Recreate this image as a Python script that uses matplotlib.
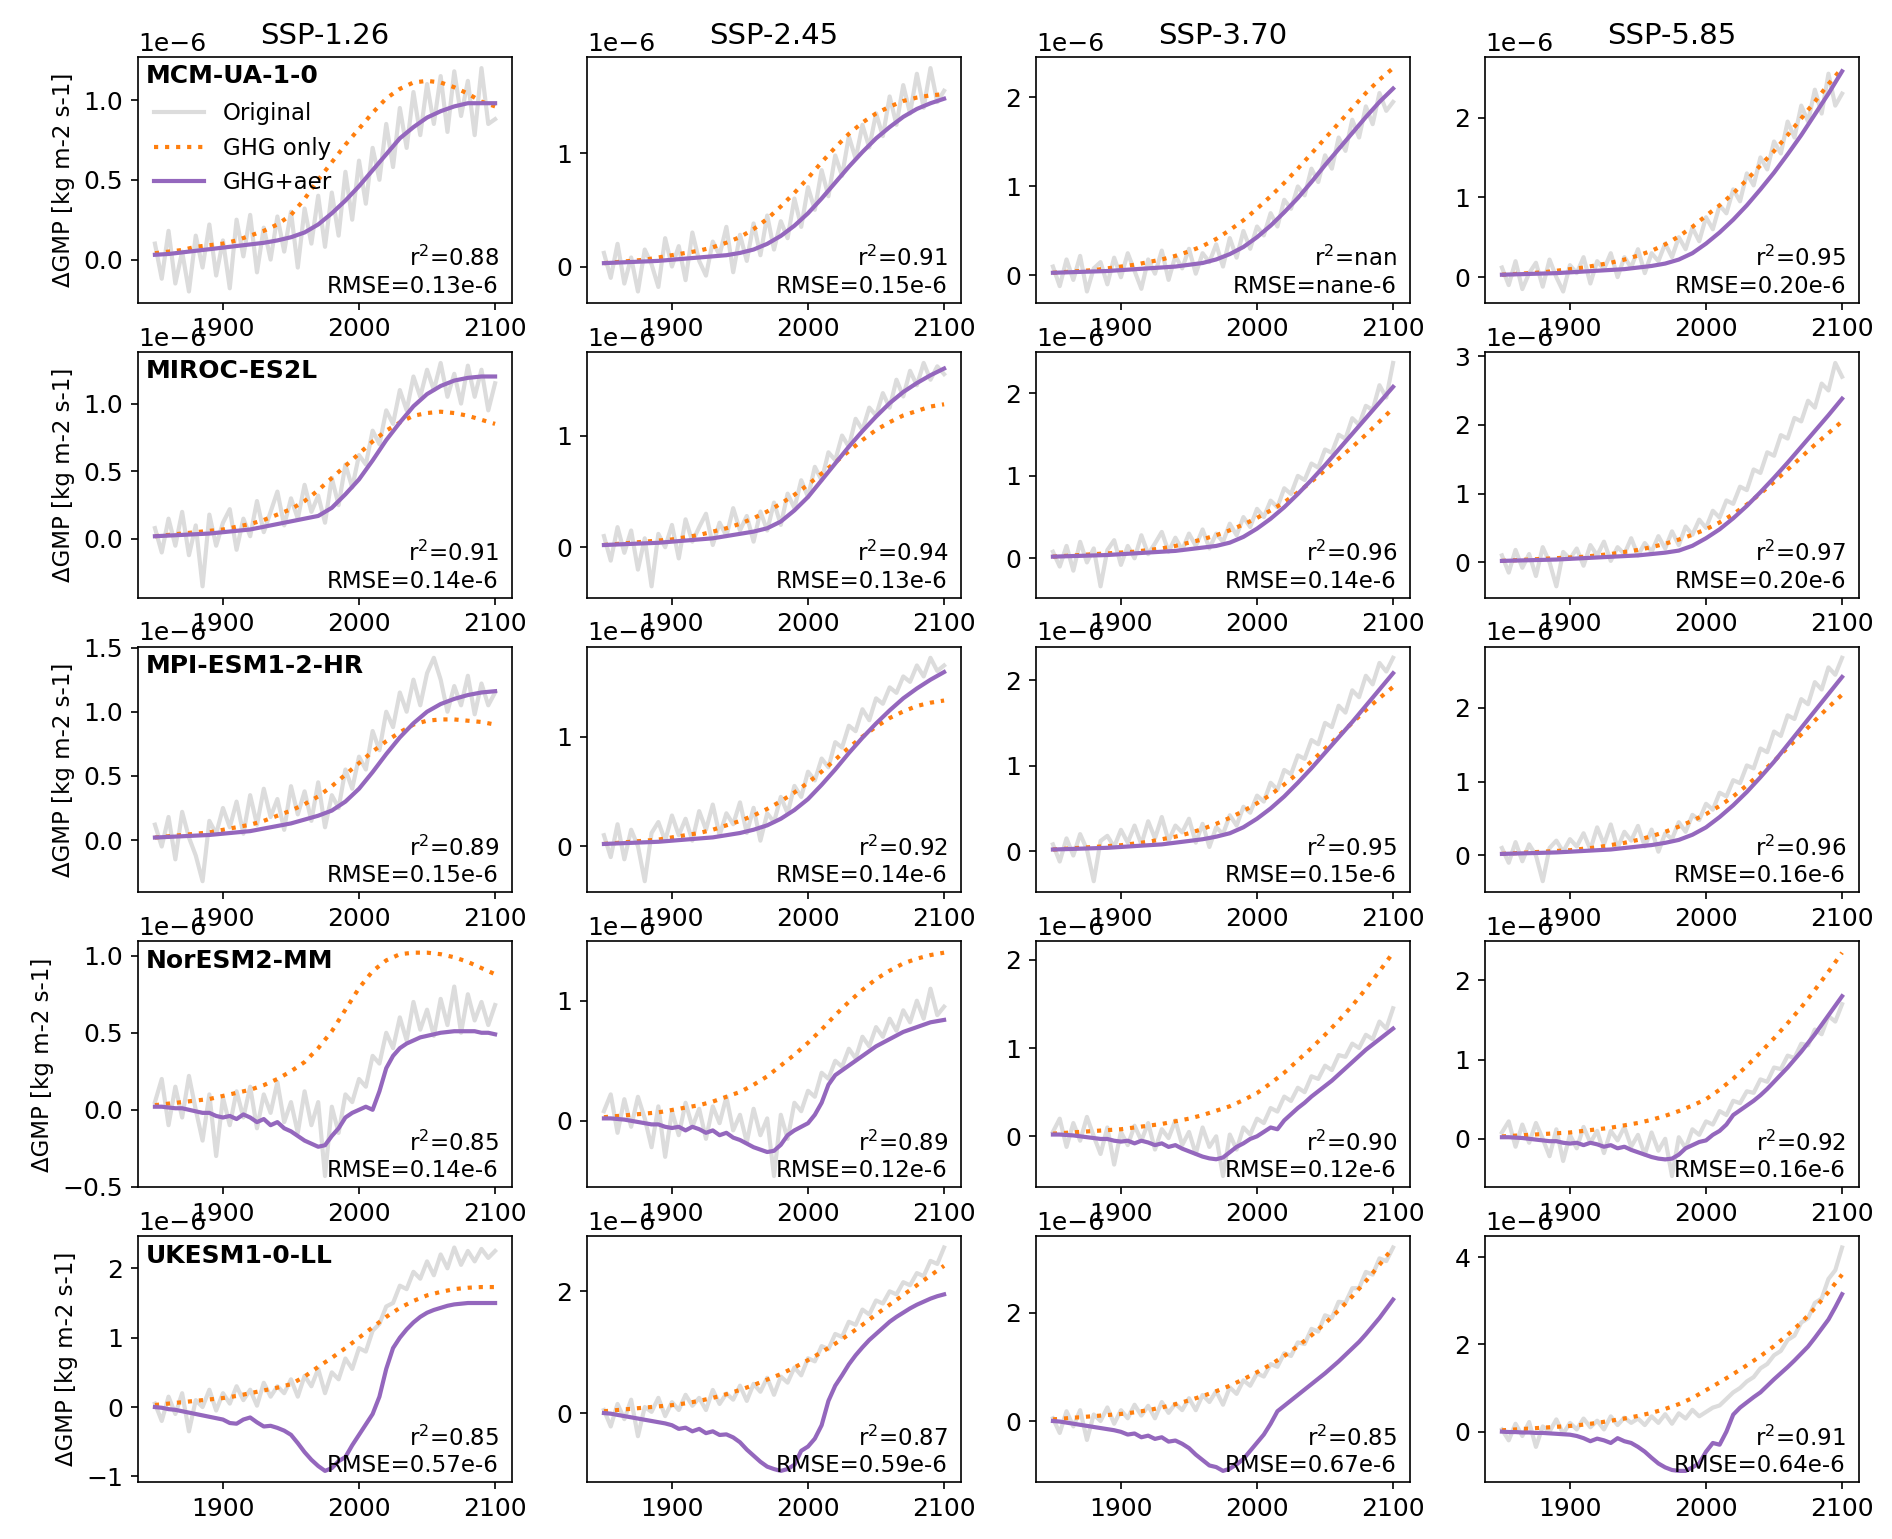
import numpy as np
import matplotlib
matplotlib.use("Agg")
import matplotlib.pyplot as plt
from matplotlib.ticker import MaxNLocator

SCENARIOS = ["SSP-1.26", "SSP-2.45", "SSP-3.70", "SSP-5.85"]
MODELS = ["MCM-UA-1-0", "MIROC-ES2L", "MPI-ESM1-2-HR", "NorESM2-MM", "UKESM1-0-LL"]
YEAR_START, YEAR_END = 1850, 2100

# ---------------- values in units of 1e-6 kg m-2 s-1 ----------------
# Original (5-yearly samples 1850..2100)
ORIG_MCM = [
    [0.10,-0.12,0.18,-0.15,0.05,-0.20,0.15,-0.05,0.22,-0.10,
     0.12,-0.18,0.25,0.02,0.28,-0.08,0.20,0.00,0.27,0.05,
     0.30,-0.05,0.32,0.10,0.40,0.08,0.42,0.15,0.55,0.25,
     0.62,0.35,0.70,0.50,0.85,0.58,0.95,0.70,1.05,0.78,
     1.10,0.85,1.15,0.80,1.18,0.90,1.12,0.78,1.20,0.85,0.88],
    [0.12,-0.10,0.20,-0.15,0.08,-0.22,0.15,0.02,-0.18,0.25,
     0.00,0.18,-0.12,0.30,0.05,-0.08,0.22,0.10,0.35,-0.05,
     0.28,0.05,0.38,0.10,0.45,0.15,0.40,0.25,0.60,0.35,
     0.70,0.50,0.85,0.62,0.98,0.80,1.15,0.95,1.25,1.05,
     1.35,1.15,1.50,1.25,1.60,1.35,1.70,1.40,1.75,1.45,1.55],
    [0.10,-0.12,0.18,-0.05,0.22,-0.18,0.08,0.15,-0.10,0.20,
     -0.02,0.25,0.05,-0.15,0.18,0.02,0.28,-0.05,0.22,0.08,
     0.30,0.02,0.25,0.15,0.35,0.10,0.42,0.20,0.50,0.30,
     0.55,0.45,0.70,0.55,0.85,0.75,1.00,0.90,1.20,1.05,
     1.35,1.20,1.55,1.40,1.75,1.55,1.90,1.70,2.05,1.85,1.95],
    [0.12,-0.10,0.20,-0.15,0.05,0.18,-0.12,0.22,0.00,-0.18,
     0.15,0.05,0.25,-0.08,0.20,0.10,0.30,0.00,0.25,0.12,
     0.35,0.05,0.30,0.20,0.42,0.25,0.50,0.35,0.62,0.45,
     0.75,0.60,0.90,0.80,1.10,0.95,1.30,1.15,1.50,1.35,
     1.70,1.55,1.95,1.75,2.15,1.95,2.35,2.05,2.55,2.15,2.30],
]
ORIG_MIROC = [
    [0.08,-0.10,0.15,-0.05,0.20,-0.12,0.10,-0.35,0.18,-0.05,
     0.12,0.22,-0.08,0.15,0.02,0.28,0.05,0.20,0.35,0.10,
     0.30,0.15,0.40,0.20,0.32,0.12,0.45,0.25,0.55,0.38,
     0.62,0.55,0.80,0.70,0.95,0.85,1.10,0.95,1.20,1.05,
     1.25,1.10,1.30,1.05,1.22,1.00,1.28,1.05,1.25,0.95,1.15],
    [0.10,-0.12,0.18,-0.05,0.15,-0.20,0.08,-0.35,0.12,0.00,
     0.20,-0.10,0.25,0.05,0.18,0.30,0.02,0.22,0.10,0.35,
     0.15,0.28,0.05,0.32,0.15,0.40,0.20,0.48,0.35,0.60,
     0.45,0.72,0.60,0.85,0.78,1.00,0.90,1.15,1.05,1.25,
     1.18,1.38,1.25,1.50,1.35,1.58,1.45,1.65,1.50,1.62,1.55],
    [0.08,-0.10,0.15,-0.15,0.20,-0.05,0.12,-0.34,0.10,0.22,
     -0.08,0.15,0.00,0.28,0.05,0.18,0.32,0.08,0.25,0.10,
     0.30,0.15,0.35,0.12,0.30,0.20,0.42,0.28,0.50,0.38,
     0.60,0.50,0.70,0.62,0.85,0.78,1.00,0.95,1.15,1.10,
     1.32,1.28,1.50,1.45,1.70,1.62,1.85,1.80,2.10,1.95,2.37],
    [0.10,-0.15,0.18,-0.08,0.12,-0.20,0.22,0.00,-0.35,0.15,
     0.05,0.20,-0.05,0.25,0.10,0.30,0.02,0.22,0.12,0.35,
     0.10,0.28,0.15,0.38,0.20,0.45,0.25,0.52,0.40,0.62,
     0.50,0.75,0.65,0.90,0.85,1.10,1.05,1.35,1.30,1.60,
     1.55,1.85,1.80,2.10,2.05,2.35,2.25,2.60,2.50,2.90,2.70],
]
ORIG_MPI = [
    [0.12,-0.05,0.18,-0.15,0.22,0.02,-0.12,-0.32,0.15,0.05,
     0.25,0.10,0.30,0.05,0.35,0.12,0.40,0.18,0.32,0.08,
     0.42,0.20,0.38,0.15,0.45,0.10,0.35,0.25,0.55,0.40,
     0.65,0.55,0.85,0.70,1.00,0.88,1.15,1.00,1.25,1.05,
     1.30,1.42,1.25,1.00,1.20,1.05,1.28,0.98,1.22,1.05,1.15],
    [0.10,-0.10,0.20,-0.12,0.15,0.00,-0.32,0.12,0.22,0.05,
     0.28,0.10,0.25,0.05,0.32,0.15,0.38,0.10,0.30,0.20,
     0.40,0.12,0.35,0.05,0.30,0.22,0.45,0.30,0.55,0.45,
     0.68,0.60,0.80,0.72,0.95,0.90,1.10,1.05,1.25,1.15,
     1.35,1.30,1.45,1.40,1.55,1.50,1.65,1.55,1.72,1.60,1.65],
    [0.08,-0.12,0.15,-0.05,0.20,0.02,-0.35,0.12,0.18,0.05,
     0.25,0.10,0.30,0.08,0.35,0.15,0.40,0.12,0.30,0.22,
     0.38,0.10,0.32,0.05,0.28,0.20,0.42,0.30,0.52,0.45,
     0.65,0.58,0.80,0.72,0.95,0.90,1.12,1.08,1.30,1.25,
     1.50,1.45,1.70,1.62,1.88,1.80,2.05,1.95,2.20,2.10,2.26],
    [0.10,-0.10,0.18,-0.08,0.15,0.00,-0.35,0.10,0.20,0.05,
     0.22,0.12,0.30,0.08,0.38,0.15,0.42,0.10,0.32,0.20,
     0.40,0.12,0.35,0.05,0.30,0.22,0.45,0.32,0.55,0.48,
     0.70,0.62,0.85,0.80,1.02,0.98,1.22,1.18,1.45,1.40,
     1.68,1.62,1.90,1.85,2.12,2.05,2.35,2.25,2.55,2.45,2.68],
]
ORIG_NORESM = [
    [0.05,0.20,-0.10,0.15,-0.05,0.22,0.00,-0.20,0.10,-0.30,
     0.08,-0.10,0.12,-0.05,0.15,-0.12,0.10,-0.02,0.18,-0.08,
     0.05,-0.15,0.12,-0.10,0.05,-0.43,0.02,-0.15,0.10,0.05,
     0.20,0.15,0.35,0.30,0.50,0.40,0.60,0.45,0.70,0.52,
     0.65,0.48,0.72,0.55,0.80,0.50,0.75,0.58,0.70,0.55,0.68],
    [0.08,0.22,-0.10,0.18,-0.05,0.20,0.02,-0.22,0.12,-0.30,
     0.08,-0.12,0.15,-0.05,0.10,-0.15,0.12,-0.02,0.20,-0.08,
     0.05,-0.18,0.10,-0.12,0.02,-0.46,0.05,-0.15,0.15,0.08,
     0.25,0.20,0.40,0.35,0.50,0.45,0.60,0.52,0.70,0.62,
     0.78,0.70,0.85,0.75,0.92,0.82,1.00,0.85,1.10,0.88,0.95],
    [0.05,0.20,-0.12,0.15,-0.05,0.22,0.00,-0.20,0.10,-0.32,
     0.05,-0.10,0.12,-0.05,0.15,-0.15,0.08,-0.02,0.18,-0.10,
     0.05,-0.20,0.10,-0.12,0.00,-0.45,0.02,-0.15,0.10,0.02,
     0.20,0.15,0.32,0.28,0.45,0.40,0.55,0.50,0.68,0.65,
     0.80,0.75,0.92,0.90,1.05,1.00,1.15,1.10,1.30,1.22,1.45],
    [0.08,0.22,-0.10,0.18,-0.05,0.20,0.00,-0.22,0.12,-0.28,
     0.05,-0.12,0.15,-0.05,0.10,-0.18,0.10,-0.02,0.15,-0.10,
     0.05,-0.20,0.08,-0.15,0.00,-0.47,0.02,-0.12,0.12,0.05,
     0.22,0.18,0.35,0.30,0.48,0.45,0.60,0.58,0.75,0.72,
     0.90,0.88,1.05,1.02,1.20,1.18,1.38,1.32,1.55,1.48,1.70],
]
ORIG_UKESM = [
    [0.05,-0.20,0.15,-0.10,0.20,-0.35,0.10,0.00,0.25,-0.05,
     0.20,0.05,0.30,0.10,0.25,0.02,0.35,0.15,0.30,0.20,
     0.40,0.15,0.45,0.30,0.55,0.20,0.50,0.40,0.70,0.55,
     0.85,0.80,1.10,1.20,1.45,1.50,1.75,1.70,1.95,1.85,
     2.10,1.90,2.20,2.00,2.30,2.05,2.25,2.10,2.28,2.15,2.25],
    [0.05,-0.22,0.15,-0.10,0.22,-0.38,0.10,0.02,0.25,-0.05,
     0.18,0.05,0.30,0.12,0.25,0.05,0.38,0.15,0.32,0.22,
     0.45,0.20,0.48,0.35,0.58,0.30,0.60,0.50,0.75,0.62,
     0.90,0.85,1.10,1.05,1.30,1.25,1.50,1.45,1.70,1.62,
     1.85,1.80,2.00,1.95,2.15,2.10,2.30,2.25,2.50,2.45,2.72],
    [0.05,-0.22,0.18,-0.10,0.20,-0.35,0.12,0.00,0.25,-0.05,
     0.20,0.05,0.30,0.10,0.28,0.05,0.35,0.15,0.32,0.20,
     0.42,0.20,0.48,0.35,0.55,0.30,0.62,0.50,0.75,0.65,
     0.88,0.82,1.05,1.00,1.25,1.20,1.45,1.42,1.70,1.65,
     1.95,1.90,2.20,2.18,2.45,2.45,2.75,2.70,3.00,2.95,3.20],
    [0.05,-0.20,0.18,-0.10,0.22,-0.35,0.12,0.00,0.28,-0.05,
     0.20,0.05,0.30,0.10,0.25,0.05,0.35,0.15,0.32,0.20,
     0.30,0.15,0.35,0.20,0.40,0.18,0.42,0.30,0.50,0.35,
     0.45,0.55,0.60,0.75,0.90,1.00,1.15,1.25,1.45,1.55,
     1.75,1.85,2.10,2.20,2.50,2.60,2.95,3.05,3.50,3.70,4.22],
]

# GHG only (10-yearly samples 1850..2100)
GHG_MCM = [
    [.04,.05,.06,.08,.09,.10,.12,.15,.18,.22,.28,.38,.50,.61,.72,.82,.92,1.01,1.07,1.11,1.12,1.11,1.08,1.04,.99,.96],
    [.03,.04,.05,.06,.08,.10,.12,.14,.17,.21,.26,.33,.42,.53,.65,.78,.92,1.05,1.17,1.27,1.35,1.41,1.46,1.49,1.51,1.52],
    [.03,.04,.05,.06,.08,.10,.12,.15,.18,.22,.27,.33,.41,.51,.62,.75,.89,1.04,1.20,1.37,1.54,1.71,1.88,2.05,2.20,2.33],
    [.03,.04,.05,.06,.08,.10,.12,.15,.18,.22,.27,.33,.41,.51,.63,.77,.90,1.05,1.22,1.40,1.58,1.78,1.99,2.20,2.42,2.62],
]
GHG_MIROC = [
    [.02,.03,.04,.05,.06,.07,.09,.11,.14,.18,.22,.28,.36,.45,.54,.63,.72,.80,.86,.91,.93,.94,.93,.91,.88,.85],
    [.02,.03,.04,.05,.06,.07,.09,.11,.14,.17,.21,.26,.32,.39,.47,.56,.66,.76,.86,.96,1.05,1.12,1.18,1.22,1.26,1.28],
    [.02,.03,.04,.05,.06,.07,.08,.10,.12,.15,.19,.23,.28,.34,.41,.49,.58,.68,.80,.93,1.07,1.21,1.35,1.50,1.66,1.82],
    [.02,.03,.04,.05,.06,.07,.08,.10,.12,.15,.18,.22,.27,.33,.40,.48,.58,.70,.84,1.00,1.17,1.35,1.53,1.71,1.88,2.05],
]
GHG_MPI = [
    [.02,.03,.04,.05,.06,.08,.10,.12,.15,.19,.23,.28,.34,.42,.51,.60,.69,.77,.84,.90,.93,.94,.94,.93,.92,.90],
    [.02,.03,.04,.05,.06,.08,.10,.12,.15,.19,.23,.28,.34,.41,.49,.58,.68,.79,.90,1.00,1.09,1.17,1.23,1.28,1.31,1.33],
    [.02,.03,.04,.05,.06,.07,.09,.11,.14,.17,.21,.26,.32,.39,.47,.56,.66,.78,.91,1.05,1.20,1.35,1.50,1.65,1.79,1.92],
    [.02,.03,.04,.05,.06,.07,.09,.11,.14,.17,.21,.26,.32,.39,.47,.56,.67,.80,.95,1.11,1.28,1.46,1.64,1.83,2.01,2.18],
]
GHG_NORESM = [
    [.03,.04,.05,.06,.07,.09,.11,.13,.16,.20,.25,.31,.40,.51,.65,.79,.90,.97,1.01,1.02,1.02,1.01,.99,.96,.92,.88],
    [.03,.04,.05,.06,.07,.09,.11,.13,.16,.20,.24,.30,.37,.46,.55,.65,.76,.88,.99,1.09,1.18,1.25,1.31,1.35,1.38,1.40],
    [.03,.04,.05,.06,.07,.08,.10,.12,.14,.17,.20,.24,.29,.34,.41,.49,.60,.72,.86,1.00,1.15,1.31,1.48,1.67,1.87,2.08],
    [.03,.04,.05,.06,.07,.08,.10,.12,.14,.17,.20,.24,.29,.35,.42,.50,.62,.76,.92,1.09,1.27,1.46,1.66,1.88,2.11,2.35],
]
GHG_UKESM = [
    [.03,.05,.07,.09,.11,.13,.16,.20,.24,.28,.33,.44,.58,.71,.85,1.00,1.15,1.30,1.43,1.53,1.61,1.66,1.70,1.72,1.73,1.73],
    [.03,.05,.07,.09,.11,.13,.16,.20,.25,.31,.38,.46,.55,.64,.75,.87,1.00,1.14,1.29,1.45,1.62,1.78,1.94,2.10,2.26,2.42],
    [.03,.05,.07,.09,.11,.13,.16,.20,.25,.31,.38,.46,.55,.65,.77,.90,1.04,1.20,1.38,1.58,1.80,2.04,2.30,2.58,2.88,3.20],
    [.03,.05,.07,.09,.11,.13,.16,.20,.25,.30,.36,.43,.52,.63,.77,.95,1.13,1.32,1.52,1.73,1.96,2.22,2.50,2.83,3.20,3.60],
]

# GHG+aer (10-yearly for smooth fits, 5-yearly where aerosol wiggles show)
AER_MCM = [
    [.03,.035,.045,.055,.065,.075,.085,.095,.105,.12,.14,.17,.22,.29,.37,.46,.56,.66,.76,.83,.89,.93,.96,.98,.98,.98],
    [.03,.035,.04,.045,.05,.06,.07,.08,.09,.10,.12,.15,.20,.27,.36,.47,.60,.74,.88,1.01,1.13,1.23,1.32,1.39,1.44,1.48],
    [.03,.035,.04,.045,.05,.06,.07,.08,.09,.10,.12,.14,.18,.24,.32,.43,.56,.71,.87,1.05,1.24,1.42,1.60,1.78,1.95,2.10],
    [.03,.035,.04,.045,.05,.06,.07,.08,.09,.10,.12,.14,.17,.22,.30,.42,.56,.72,.90,1.10,1.31,1.54,1.78,2.04,2.30,2.58],
]
AER_MIROC = [
    [.02,.025,.03,.035,.04,.05,.06,.07,.09,.11,.13,.15,.17,.23,.33,.44,.58,.73,.86,.98,1.07,1.13,1.17,1.19,1.20,1.20],
    [.02,.025,.03,.035,.04,.05,.06,.07,.08,.10,.12,.14,.17,.23,.33,.45,.60,.75,.90,1.04,1.17,1.29,1.39,1.47,1.54,1.60],
    [.02,.025,.03,.035,.04,.05,.06,.07,.08,.09,.11,.13,.15,.19,.26,.36,.48,.62,.78,.95,1.13,1.32,1.51,1.70,1.89,2.08],
    [.02,.025,.03,.035,.04,.05,.06,.07,.08,.09,.10,.12,.14,.17,.24,.35,.48,.64,.82,1.02,1.23,1.45,1.68,1.91,2.14,2.38],
]
AER_MPI = [
    [.02,.025,.03,.035,.04,.05,.06,.07,.09,.11,.13,.16,.19,.23,.30,.40,.53,.67,.80,.91,1.00,1.06,1.10,1.13,1.15,1.16],
    [.02,.025,.03,.035,.04,.05,.06,.07,.08,.10,.12,.15,.19,.25,.33,.43,.56,.70,.85,.99,1.12,1.24,1.35,1.44,1.52,1.59],
    [.02,.025,.03,.035,.04,.05,.06,.07,.08,.10,.12,.14,.17,.21,.28,.38,.50,.64,.80,.97,1.15,1.33,1.51,1.70,1.89,2.08],
    [.02,.025,.03,.035,.04,.05,.06,.07,.08,.10,.12,.14,.17,.21,.28,.38,.52,.68,.86,1.06,1.27,1.50,1.73,1.96,2.19,2.42],
]
AER_NORESM = [
    [.02,.02,.015,.01,.01,.00,-.01,-.02,-.02,-.04,
     -.05,-.04,-.06,-.03,-.05,-.08,-.06,-.10,-.08,-.12,
     -.14,-.17,-.20,-.22,-.24,-.23,-.17,-.12,-.05,-.02,
     .00,.02,.00,.12,.27,.35,.40,.43,.45,.47,
     .48,.49,.50,.505,.51,.51,.51,.51,.50,.50,.49],
    [.02,.02,.015,.01,.00,-.01,-.02,-.03,-.03,-.05,
     -.06,-.05,-.08,-.05,-.07,-.10,-.08,-.12,-.10,-.14,
     -.16,-.19,-.22,-.24,-.26,-.25,-.20,-.12,-.08,-.05,
     -.02,.05,.15,.30,.38,.42,.46,.50,.54,.58,
     .62,.65,.68,.71,.74,.76,.78,.80,.82,.83,.84],
    [.02,.02,.015,.01,.00,-.01,-.02,-.03,-.03,-.05,
     -.06,-.05,-.08,-.05,-.07,-.10,-.08,-.12,-.10,-.14,
     -.17,-.20,-.23,-.25,-.26,-.24,-.18,-.12,-.08,-.03,
     .00,.05,.10,.08,.18,.25,.32,.38,.45,.51,
     .57,.63,.70,.77,.84,.91,.98,1.04,1.10,1.16,1.22],
    [.02,.02,.015,.01,.00,-.01,-.02,-.03,-.03,-.05,
     -.06,-.05,-.08,-.05,-.07,-.10,-.08,-.12,-.10,-.14,
     -.17,-.20,-.23,-.25,-.26,-.25,-.20,-.12,-.08,-.04,
     -.02,.05,.10,.18,.30,.36,.42,.48,.55,.63,
     .72,.81,.90,1.00,1.10,1.21,1.32,1.44,1.56,1.68,1.80],
]
AER_UKESM = [
    [.00,-.01,-.03,-.04,-.06,-.08,-.10,-.12,-.14,-.16,
     -.18,-.23,-.24,-.18,-.15,-.22,-.28,-.27,-.30,-.34,
     -.40,-.52,-.65,-.76,-.85,-.92,-.88,-.78,-.72,-.55,
     -.40,-.25,-.10,.15,.55,.85,1.00,1.12,1.22,1.30,
     1.36,1.40,1.43,1.46,1.48,1.49,1.50,1.50,1.50,1.50,1.50],
    [.00,-.01,-.03,-.05,-.07,-.09,-.11,-.13,-.15,-.17,
     -.20,-.26,-.24,-.30,-.26,-.33,-.30,-.36,-.35,-.40,
     -.48,-.60,-.70,-.80,-.88,-.92,-.95,-.92,-.85,-.62,
     -.55,-.42,-.20,.20,.45,.62,.80,.95,1.08,1.20,
     1.30,1.40,1.50,1.58,1.65,1.72,1.78,1.83,1.88,1.92,1.95],
    [.00,-.01,-.03,-.05,-.07,-.09,-.11,-.13,-.15,-.17,
     -.20,-.25,-.23,-.30,-.27,-.33,-.30,-.38,-.36,-.42,
     -.50,-.62,-.72,-.82,-.85,-.92,-.88,-.80,-.70,-.55,
     -.40,-.25,-.05,.18,.28,.38,.48,.58,.68,.78,
     .88,.99,1.10,1.22,1.34,1.46,1.60,1.75,1.90,2.07,2.24],
    [.00,-.01,-.01,-.02,-.02,-.03,-.03,-.04,-.05,-.06,
     -.07,-.10,-.15,-.22,-.16,-.20,-.26,-.15,-.22,-.26,
     -.35,-.46,-.60,-.73,-.82,-.88,-.90,-.90,-.82,-.73,
     -.46,-.26,-.30,.00,.39,.55,.67,.79,.90,1.05,
     1.20,1.34,1.48,1.63,1.79,1.95,2.15,2.36,2.57,2.85,3.15],
]

NAN = float("nan")
R2 = [
    [0.88, 0.91, NAN, 0.95],
    [0.91, 0.94, 0.96, 0.97],
    [0.89, 0.92, 0.95, 0.96],
    [0.85, 0.89, 0.90, 0.92],
    [0.85, 0.87, 0.85, 0.91],
]
RMSE = [
    [0.13, 0.15, NAN, 0.20],
    [0.14, 0.13, 0.14, 0.20],
    [0.15, 0.14, 0.15, 0.16],
    [0.14, 0.12, 0.12, 0.16],
    [0.57, 0.59, 0.67, 0.64],
]
XTICKS = [1900, 2000, 2100]

ORIGINAL = [ORIG_MCM, ORIG_MIROC, ORIG_MPI, ORIG_NORESM, ORIG_UKESM]
GHG_ONLY = [GHG_MCM, GHG_MIROC, GHG_MPI, GHG_NORESM, GHG_UKESM]
GHG_AER = [AER_MCM, AER_MIROC, AER_MPI, AER_NORESM, AER_UKESM]

plt.rcParams["font.family"] = ["DejaVu Sans"]
plt.rcParams["font.size"] = 11
plt.rcParams["xtick.labelsize"] = 12
plt.rcParams["ytick.labelsize"] = 12

C_ORIG = "#dcdcdc"
C_GHG = "#ff7f0e"
C_AER = "#9467bd"


def years(vals):
    return np.linspace(YEAR_START, YEAR_END, len(vals))


fig, axes = plt.subplots(5, 4, figsize=(1892 / 150, 1539 / 150), dpi=150)
fig.subplots_adjust(left=0.0729, right=0.9826, top=0.963, bottom=0.037,
                    wspace=0.2, hspace=0.2)

for i, model in enumerate(MODELS):
    for j, scen in enumerate(SCENARIOS):
        ax = axes[i, j]
        o = np.array(ORIGINAL[i][j]) * 1e-6
        g = np.array(GHG_ONLY[i][j]) * 1e-6
        a = np.array(GHG_AER[i][j]) * 1e-6
        ax.plot(years(o), o, color=C_ORIG, lw=2, label="Original")
        ax.plot(years(g), g, color=C_GHG, lw=2, ls=":", label="GHG only")
        ax.plot(years(a), a, color=C_AER, lw=2, label="GHG+aer")
        ax.set_xticks(XTICKS)
        ax.yaxis.set_major_locator(MaxNLocator(nbins=4, steps=[1, 2, 2.5, 5, 10]))
        ax.text(0.965, 0.02,
                f"r$^2$={R2[i][j]:.2f}\nRMSE={RMSE[i][j]:.2f}e-6",
                transform=ax.transAxes, ha="right", va="bottom",
                multialignment="right", fontsize=11)
        if i == 0:
            ax.set_title(scen, fontsize=14)
        if j == 0:
            ax.set_ylabel("ΔGMP [kg m-2 s-1]", fontsize=11)
            ax.text(0.02, 0.97, model, transform=ax.transAxes, ha="left",
                    va="top", fontsize=12, fontweight="bold")
        if i == 0 and j == 0:
            ax.legend(loc="upper left", bbox_to_anchor=(0.0, 0.88),
                      frameon=False, fontsize=11, handlelength=2.2,
                      borderaxespad=0.3)

fig.savefig("out.png", dpi=150)
